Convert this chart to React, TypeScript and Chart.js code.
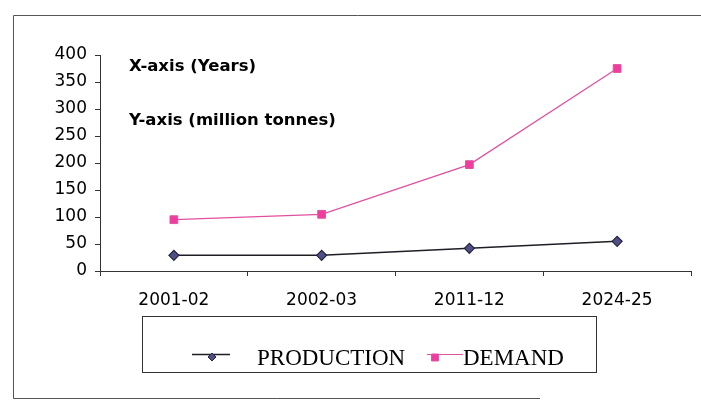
import React, { useEffect, useRef } from "react";
import { Chart, registerables } from "chart.js";

Chart.register(...registerables);

const categories = ["2001-02", "2002-03", "2011-12", "2024-25"];
const productionValues = [29, 29, 42, 55];
const demandValues = [95, 105, 197, 375];
const yTicks = [0, 50, 100, 150, 200, 250, 300, 350, 400];
const seriesNames = ["PRODUCTION", "DEMAND"];
const notes = ["X-axis (Years)", "Y-axis (million tonnes)"];

const SANS = "'DejaVu Sans', sans-serif";
const SERIF = "'Liberation Serif', 'Times New Roman', serif";

const framePlugin = {
  id: "framePlugin",
  afterDraw(chart: any) {
    const ctx = chart.ctx as CanvasRenderingContext2D;
    ctx.save();
    // outer frame
    ctx.strokeStyle = "#555";
    ctx.lineWidth = 1;
    ctx.beginPath();
    ctx.moveTo(13.5, 398.5);
    ctx.lineTo(13.5, 15.5);
    ctx.lineTo(701, 15.5);
    ctx.moveTo(13.5, 398.5);
    ctx.lineTo(540, 398.5);
    ctx.stroke();

    // notes
    ctx.fillStyle = "#000";
    ctx.font = `bold 16.5px ${SANS}`;
    ctx.textBaseline = "alphabetic";
    ctx.textAlign = "left";
    ctx.fillText(notes[0], 129, 71);
    ctx.fillText(notes[1], 129, 125);

    // legend box
    ctx.strokeStyle = "#333";
    ctx.lineWidth = 1;
    ctx.strokeRect(142.5, 316.5, 454, 56);

    const ds = chart.data.datasets;
    const items = [
      { lineX0: 192, lineX1: 230, markX: 212, textX: 257 },
      { lineX0: 427, lineX1: 463, markX: 435, textX: 463 },
    ];
    items.forEach((it, i) => {
      const d = ds[i];
      const ly = 354.5;
      ctx.strokeStyle = d.borderColor;
      ctx.lineWidth = d.borderWidth;
      ctx.beginPath();
      ctx.moveTo(it.lineX0, ly);
      ctx.lineTo(it.lineX1, ly);
      ctx.stroke();
      ctx.fillStyle = d.pointBackgroundColor;
      ctx.strokeStyle = d.pointBorderColor;
      ctx.lineWidth = 1;
      ctx.beginPath();
      if (d.pointStyle === "rectRot") {
        const r = 4;
        const cy = 357;
        ctx.moveTo(it.markX, cy - r);
        ctx.lineTo(it.markX + r, cy);
        ctx.lineTo(it.markX, cy + r);
        ctx.lineTo(it.markX - r, cy);
        ctx.closePath();
      } else {
        ctx.rect(it.markX - 3.5, 354, 7, 7);
      }
      ctx.fill();
      ctx.stroke();
      ctx.fillStyle = "#000";
      ctx.font = `23px ${SERIF}`;
      ctx.fillText(d.label, it.textX, 365);
    });
    ctx.restore();
  },
};

export default function App() {
  const ref = useRef<HTMLCanvasElement | null>(null);

  useEffect(() => {
    if (!ref.current) return;
    const chart = new Chart(ref.current, {
      type: "line",
      data: {
        labels: categories,
        datasets: [
          {
            label: seriesNames[0],
            data: productionValues,
            borderColor: "#1e1e24",
            borderWidth: 1.5,
            pointStyle: "rectRot",
            pointRadius: 5,
            pointBackgroundColor: "#4f4f85",
            pointBorderColor: "#23233f",
            pointBorderWidth: 1.2,
            tension: 0,
          } as any,
          {
            label: seriesNames[1],
            data: demandValues,
            borderColor: "#e0509f",
            borderWidth: 1.2,
            pointStyle: "rect",
            pointRadius: 5.5,
            pointBackgroundColor: "#f03c9e",
            pointBorderColor: "#e0559f",
            pointBorderWidth: 1,
            tension: 0,
          } as any,
        ],
      },
      options: {
        animation: false,
        responsive: false,
        maintainAspectRatio: false,
        layout: { padding: { top: 55, left: 0, right: 10, bottom: 0 } },
        plugins: {
          legend: { display: false },
          tooltip: { enabled: false },
          title: { display: false },
        },
        scales: {
          x: {
            type: "category",
            offset: true,
            grid: {
              offset: true,
              drawOnChartArea: false,
              drawTicks: true,
              tickLength: 5,
              color: "#333",
            },
            border: { display: true, color: "#333", width: 1 },
            ticks: {
              color: "#000",
              font: { family: SANS, size: 17 },
              padding: 14,
              maxRotation: 0,
              autoSkip: false,
            },
            afterFit(scale: any) {
              scale.height = 131;
            },
          },
          y: {
            min: 0,
            max: 400,
            afterBuildTicks(scale: any) {
              scale.ticks = yTicks.map((v) => ({ value: v }));
            },
            grid: {
              drawOnChartArea: false,
              drawTicks: true,
              tickLength: 5,
              color: "#333",
            },
            border: { display: true, color: "#333", width: 1 },
            ticks: {
              color: "#000",
              font: { family: SANS, size: 17 },
              padding: 8,
            },
            afterFit(scale: any) {
              scale.width = 100;
            },
          },
        },
      },
      plugins: [framePlugin],
    });
    return () => chart.destroy();
  }, []);

  return (
    <div style={{ position: "absolute", left: 0, top: 0, width: 701, height: 402, background: "#fff" }}>
      <canvas ref={ref} width={701} height={402} style={{ display: "block", width: 701, height: 402 }} />
    </div>
  );
}
